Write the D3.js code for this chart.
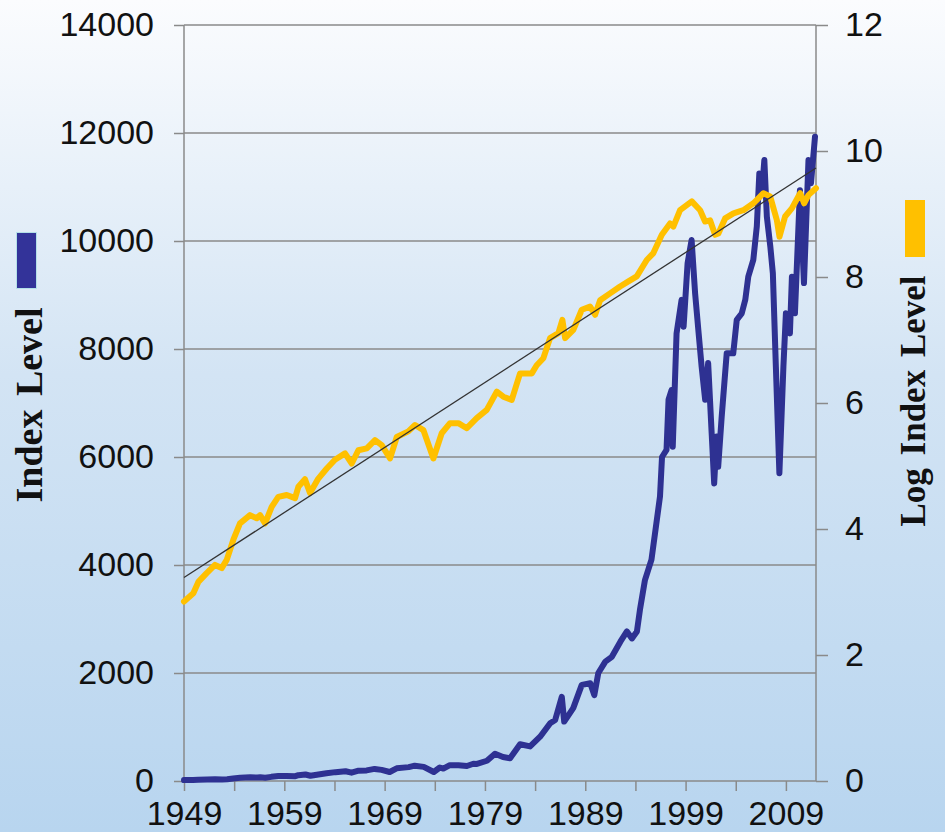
<!DOCTYPE html>
<html>
<head>
<meta charset="utf-8">
<script src="https://cdn.jsdelivr.net/npm/d3@7"></script>
<style>
    body { margin: 0; }
    svg { display: block; }
</style>
</head>
<body>
<div id="chart"></div>
<script>
// index level (left axis)
const indexYears = [1949.0, 1949.9, 1950.4, 1951.3, 1952.1, 1952.8, 1953.3, 1953.9, 1954.6, 1955.6,
    1956.3, 1956.6, 1957.1, 1957.7, 1958.4, 1959.2, 1960.1, 1960.4, 1961.1, 1961.6,
    1962.4, 1963.2, 1964.1, 1965.1, 1965.7, 1966.4, 1967.2, 1968.0, 1968.7, 1969.5,
    1970.2, 1971.4, 1972.0, 1972.9, 1973.9, 1974.5, 1974.85, 1975.5, 1976.35, 1977.2,
    1977.85, 1978.2, 1979.2, 1980.0, 1980.8, 1981.5, 1982.5, 1983.5, 1984.5, 1985.5,
    1986.0, 1986.66, 1986.9, 1987.8, 1988.65, 1989.5, 1989.9, 1990.3, 1991.0, 1991.65,
    1992.5, 1993.15, 1993.65, 1994.15, 1994.45, 1994.95, 1995.6, 1996.45, 1996.65, 1997.1,
    1997.3, 1997.6, 1997.72, 1998.1, 1998.6, 1998.8, 1999.2, 1999.6, 1999.95, 2000.3,
    2000.6, 2000.95, 2001.25, 2001.6, 2001.85, 2002.1, 2002.25, 2002.6, 2003.1, 2003.75,
    2004.1, 2004.6, 2004.95, 2005.25, 2005.75, 2006.1, 2006.35, 2006.6, 2006.85, 2007.1,
    2007.45, 2007.7, 2008.0, 2008.35, 2008.75, 2009.0, 2009.4, 2009.6, 2009.9, 2010.4,
    2010.8, 2011.25, 2011.5, 2011.9];
const indexValues = [17, 20, 24, 27, 31, 29, 33, 46, 60, 68,
    65, 68, 60, 77, 91, 94, 89, 107, 120, 97,
    121, 143, 164, 181, 154, 191, 196, 224, 206, 167,
    235, 257, 284, 262, 167, 250, 230, 293, 293, 278,
    320, 317, 375, 505, 445, 420, 680, 640, 820, 1070,
    1130, 1560, 1100, 1350, 1780, 1810, 1590, 2000, 2210, 2300,
    2580, 2770, 2640, 2770, 3170, 3720, 4100, 5270, 6000, 6130,
    7060, 7240, 6190, 8290, 8910, 8410, 9590, 10020, 9030, 8290,
    7670, 7060, 7740, 6440, 5510, 6380, 5820, 6750, 7920, 7920,
    8540, 8660, 8910, 9340, 9650, 10270, 11250, 10880, 11500, 10450,
    9890, 9400, 7670, 5700, 7670, 8660, 8290, 9340, 8660, 10940,
    9220, 11500, 11070, 11930];

// log index level (right axis)
const logYears = [1949.0, 1949.93, 1950.43, 1951.26, 1952.09, 1952.76, 1953.26, 1953.92, 1954.58, 1955.58,
    1956.25, 1956.58, 1957.08, 1957.74, 1958.4, 1959.24, 1960.07, 1960.4, 1961.06, 1961.56,
    1962.39, 1963.23, 1964.05, 1965.05, 1965.72, 1966.38, 1967.22, 1968.04, 1968.71, 1969.54,
    1970.21, 1971.36, 1972.03, 1972.86, 1973.86, 1974.69, 1975.52, 1976.35, 1977.19, 1978.18,
    1979.18, 1980.18, 1980.83, 1981.67, 1982.5, 1983.67, 1984.16, 1984.82, 1985.49, 1986.32,
    1986.72, 1986.99, 1987.81, 1988.65, 1989.48, 1989.98, 1990.48, 1991.47, 1992.47, 1993.3,
    1994.13, 1995.13, 1995.79, 1996.63, 1997.45, 1997.78, 1998.45, 1999.62, 2000.45, 2000.94,
    2001.44, 2001.94, 2002.27, 2002.94, 2003.77, 2004.76, 2005.76, 2006.76, 2007.43, 2008.1,
    2008.36, 2008.92, 2009.59, 2010.42, 2010.82, 2011.24, 2012.0];
const logValues = [2.85, 2.98, 3.16, 3.30, 3.43, 3.38, 3.51, 3.83, 4.09, 4.22,
    4.17, 4.22, 4.09, 4.35, 4.51, 4.54, 4.49, 4.67, 4.79, 4.57,
    4.80, 4.96, 5.10, 5.20, 5.04, 5.25, 5.28, 5.41, 5.33, 5.12,
    5.46, 5.55, 5.65, 5.57, 5.12, 5.52, 5.68, 5.68, 5.60, 5.76,
    5.89, 6.18, 6.10, 6.05, 6.47, 6.47, 6.60, 6.71, 7.03, 7.11,
    7.32, 7.03, 7.16, 7.48, 7.53, 7.40, 7.63, 7.74, 7.85, 7.93,
    8.01, 8.27, 8.38, 8.67, 8.85, 8.80, 9.06, 9.20, 9.06, 8.88,
    8.90, 8.67, 8.69, 8.93, 9.01, 9.06, 9.17, 9.33, 9.28, 8.90,
    8.64, 8.96, 9.09, 9.33, 9.17, 9.30, 9.41];

// straight trend line in log space, end points
const trendYears = [1949, 2012];
const trendValues = [3.23, 9.73];

const leftTicks = [0, 2000, 4000, 6000, 8000, 10000, 12000, 14000];
const rightTicks = [0, 2, 4, 6, 8, 10, 12];
const yearTicks = [1949, 1954, 1959, 1964, 1969, 1974, 1979, 1984, 1989, 1994, 1999, 2004, 2009];
const yearLabels = [1949, 1959, 1969, 1979, 1989, 1999, 2009];

const w = 945;
const h = 832;
const margin = { top: 25, right: 129, bottom: 51, left: 184 };
const innerWidth = w - margin.left - margin.right;
const innerHeight = h - margin.top - margin.bottom;

const gray = "#8a8a8a";
const tickFont = "'Liberation Sans', Arial, sans-serif";
const titleFont = "'Liberation Serif', 'Times New Roman', serif";

const svg = d3.select("#chart")
    .append("svg")
    .attr("width", w)
    .attr("height", h);

// background gradient
const grad = svg.append("defs").append("linearGradient")
    .attr("id", "bg")
    .attr("x1", 0).attr("y1", 0).attr("x2", 0).attr("y2", 1);
grad.append("stop").attr("offset", "0%").attr("stop-color", "#fbfcfe");
grad.append("stop").attr("offset", "45%").attr("stop-color", "#d3e4f4");
grad.append("stop").attr("offset", "100%").attr("stop-color", "#b8d5ef");

svg.append("rect")
    .attr("width", w)
    .attr("height", h)
    .attr("fill", "url(#bg)");

const xScale = d3.scaleLinear()
    .domain([1949, 2012])
    .range([0, innerWidth]);

const yLeft = d3.scaleLinear()
    .domain([0, 14000])
    .range([innerHeight, 0]);

const yRight = d3.scaleLinear()
    .domain([0, 12])
    .range([innerHeight, 0]);

const g = svg.append("g")
    .attr("transform", `translate(${margin.left},${margin.top})`);

// gridlines
g.selectAll(".grid")
    .data(leftTicks.filter(d => d > 0))
    .enter()
    .append("line")
    .attr("class", "grid")
    .attr("x1", 0)
    .attr("x2", innerWidth)
    .attr("y1", d => yLeft(d))
    .attr("y2", d => yLeft(d))
    .attr("stroke", gray)
    .attr("stroke-width", 1.5);

// left axis
const yAxisG = g.append("g")
    .call(d3.axisLeft(yLeft)
        .tickValues(leftTicks)
        .tickFormat(d3.format("d"))
        .tickSize(10)
        .tickPadding(20));

// right axis
const yAxisRG = g.append("g")
    .attr("transform", `translate(${innerWidth},0)`)
    .call(d3.axisRight(yRight).tickValues(rightTicks).tickSize(12).tickPadding(17));

// bottom axis
const xAxisG = g.append("g")
    .attr("transform", `translate(0,${innerHeight})`)
    .call(d3.axisBottom(xScale)
        .tickValues(yearTicks)
        .tickSize(10)
        .tickPadding(10)
        .tickFormat(d => yearLabels.includes(d) ? String(d) : ""));

// drop the empty labels of the unlabeled year ticks
xAxisG.selectAll(".tick text").filter(function () { return this.textContent === ""; }).remove();

[yAxisG, yAxisRG, xAxisG].forEach(a => {
    a.select(".domain").remove();
    a.selectAll(".tick line").attr("stroke", gray).attr("stroke-width", 1.5);
    a.selectAll(".tick text")
        .attr("fill", "#111")
        .style("font-family", tickFont)
        .style("font-size", "34px");
});

// axis lines
g.append("line")
    .attr("x1", 0).attr("x2", 0)
    .attr("y1", 0).attr("y2", innerHeight)
    .attr("stroke", gray).attr("stroke-width", 1.5);
g.append("line")
    .attr("x1", innerWidth).attr("x2", innerWidth)
    .attr("y1", 0).attr("y2", innerHeight)
    .attr("stroke", gray).attr("stroke-width", 1.5);
g.append("line")
    .attr("x1", 0).attr("x2", innerWidth)
    .attr("y1", innerHeight).attr("y2", innerHeight)
    .attr("stroke", gray).attr("stroke-width", 1.5);

// index line
const indexData = indexYears.map((yr, i) => ({ year: yr, value: indexValues[i] }));
g.append("path")
    .datum(indexData)
    .attr("fill", "none")
    .attr("stroke", "#2e3192")
    .attr("stroke-width", 6)
    .attr("stroke-linejoin", "round")
    .attr("stroke-linecap", "round")
    .attr("d", d3.line().x(d => xScale(d.year)).y(d => yLeft(d.value)));

// log line
const logData = logYears.map((yr, i) => ({ year: yr, value: logValues[i] }));
g.append("path")
    .datum(logData)
    .attr("fill", "none")
    .attr("stroke", "#ffc000")
    .attr("stroke-width", 6)
    .attr("stroke-linejoin", "round")
    .attr("stroke-linecap", "round")
    .attr("d", d3.line().x(d => xScale(d.year)).y(d => yRight(d.value)));

// trend
const trendData = trendYears.map((yr, i) => ({ year: yr, value: trendValues[i] }));
g.append("path")
    .datum(trendData)
    .attr("fill", "none")
    .attr("stroke", "#333")
    .attr("stroke-width", 1.3)
    .attr("d", d3.line().x(d => xScale(d.year)).y(d => yRight(d.value)));

// legend swatches
svg.append("rect")
    .attr("x", 16.5).attr("y", 232.5)
    .attr("width", 20).attr("height", 56)
    .attr("fill", "#333399")
    .attr("stroke", "#b4e0e8")
    .attr("stroke-width", 1);

svg.append("rect")
    .attr("x", 905).attr("y", 200)
    .attr("width", 20).attr("height", 57)
    .attr("fill", "#ffc000");

// axis titles
svg.append("text")
    .attr("transform", "translate(42,405) rotate(-90)")
    .attr("text-anchor", "middle")
    .text("Index Level")
    .style("font-family", titleFont)
    .style("font-weight", "bold")
    .style("font-size", "38px")
    .style("word-spacing", "4px")
    .attr("fill", "#111");

svg.append("text")
    .attr("transform", "translate(925,401) rotate(-90)")
    .attr("text-anchor", "middle")
    .text("Log Index Level")
    .style("font-family", titleFont)
    .style("font-weight", "bold")
    .style("font-size", "35px")
    .style("word-spacing", "4px")
    .attr("fill", "#111");
</script>
</body>
</html>
